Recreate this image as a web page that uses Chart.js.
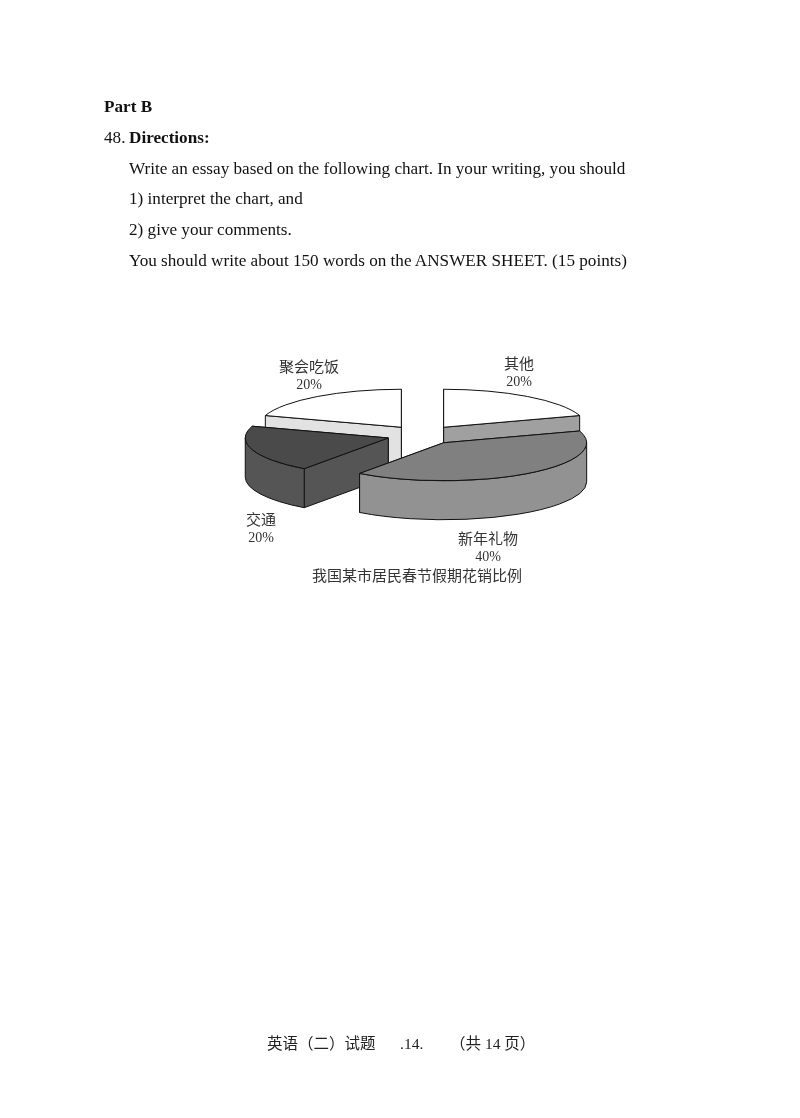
<!DOCTYPE html>
<html>
<head>
<meta charset="utf-8">
<title>Part B</title>
<script src="https://cdn.jsdelivr.net/npm/chart.js@4"></script>
<style>
    html, body { margin: 0; background: #fff; }
    body { position: relative; width: 800px; height: 1118px; overflow: hidden; font-family: "Liberation Serif", "Noto Sans CJK SC", serif; color: #111; }
    .line { position: absolute; font-size: 17.15px; line-height: 20px; white-space: pre; filter: blur(0.3px); }
    .foot { position: absolute; top: 1034px; font-size: 15.5px; line-height: 20px; white-space: pre; color: #222; filter: blur(0.3px); }
    #chartBox { position: absolute; left: 220px; top: 340px; filter: blur(0.45px); }
</style>
</head>
<body>
<div class="line" style="left:104px;top:97px"><b>Part B</b></div>
<div class="line" style="left:104px;top:128px">48.</div>
<div class="line" style="left:129px;top:128px"><b>Directions:</b></div>
<div class="line" style="left:129px;top:159px">Write an essay based on the following chart. In your writing, you should</div>
<div class="line" style="left:129px;top:189px">1) interpret the chart, and</div>
<div class="line" style="left:129px;top:220px">2) give your comments.</div>
<div class="line" style="left:129px;top:251px">You should write about 150 words on the ANSWER SHEET. (15 points)</div>

<div id="chartBox"><canvas id="springChart" width="394" height="246"></canvas></div>

<div class="foot" style="left:267px">英语（二）试题</div>
<div class="foot" style="left:400px">.14.</div>
<div class="foot" style="left:450px">（共 14 页）</div>

<script>
const categories = ['其他', '新年礼物', '交通', '聚会吃饭'];
const percents = [20, 40, 20, 20];
const chartTitle = '我国某市居民春节假期花销比例';

const topColors = ['#ffffff', '#808080', '#4a4a4a', '#ffffff'];
const sideColors = ['#a0a0a0', '#929292', '#555555', '#e2e2e2'];

const SQUASH = 38 / 143;   // tilt of the pie
const DEPTH = 39;          // height of the slices
const EXPLODE = 36;        // how far each slice is pulled out
const PIE_SHIFT = 5.5;     // pie sits a little right of the caption
const LINE = '#111111';

// label centres inside the canvas, same order as categories
const labelSpots = [[299, 25], [268, 200], [41, 181], [89, 28]];

function sliceCenter(arc) {
    const mid = (arc.startAngle + arc.endAngle) / 2;
    return {
        x: arc.x + PIE_SHIFT + Math.cos(mid) * EXPLODE,
        y: arc.y + Math.sin(mid) * EXPLODE * SQUASH
    };
}

function edgeWall(ctx, c, r, angle, color) {
    const ex = c.x + Math.cos(angle) * r;
    const ey = c.y + Math.sin(angle) * r * SQUASH;
    ctx.beginPath();
    ctx.moveTo(c.x, c.y);
    ctx.lineTo(ex, ey);
    ctx.lineTo(ex, ey + DEPTH);
    ctx.lineTo(c.x, c.y + DEPTH);
    ctx.closePath();
    ctx.fillStyle = color;
    ctx.fill();
    ctx.stroke();
}

const pie3dPlugin = {
    id: 'pie3d',
    beforeDatasetsDraw(chart) {
        const ctx = chart.ctx;
        const arcs = chart.getDatasetMeta(0).data.map((arc, index) => ({ arc, index }));

        // paint the slices from back to front
        arcs.sort((a, b) => Math.sin((a.arc.startAngle + a.arc.endAngle) / 2) - Math.sin((b.arc.startAngle + b.arc.endAngle) / 2));

        ctx.save();
        ctx.strokeStyle = LINE;
        ctx.lineWidth = 1;
        ctx.lineJoin = 'round';

        arcs.forEach(({ arc, index }) => {
            const c = sliceCenter(arc);
            const r = arc.outerRadius;
            const start = arc.startAngle;
            const end = arc.endAngle;

            // back edge first so the nearer wall covers it
            [start, end]
                .sort((a, b) => Math.sin(a) - Math.sin(b))
                .forEach(angle => edgeWall(ctx, c, r, angle, sideColors[index]));

            // curved outer wall, only the part facing the viewer
            const from = Math.max(start, 0);
            const to = Math.min(end, Math.PI);
            if (from < to) {
                ctx.beginPath();
                ctx.ellipse(c.x, c.y, r, r * SQUASH, 0, from, to);
                ctx.ellipse(c.x, c.y + DEPTH, r, r * SQUASH, 0, to, from, true);
                ctx.closePath();
                ctx.fillStyle = sideColors[index];
                ctx.fill();
                ctx.stroke();
            }

            // top face is the library's own arc, flattened
            ctx.save();
            ctx.translate(c.x, c.y);
            ctx.scale(1, SQUASH);
            ctx.translate(-arc.x, -arc.y);
            arc.draw(ctx);
            ctx.restore();

            ctx.beginPath();
            ctx.moveTo(c.x, c.y);
            ctx.ellipse(c.x, c.y, r, r * SQUASH, 0, start, end);
            ctx.closePath();
            ctx.stroke();
        });

        ctx.fillStyle = '#333';
        ctx.textAlign = 'center';
        ctx.textBaseline = 'middle';
        categories.forEach((name, i) => {
            ctx.font = '15px "Liberation Serif", "Noto Sans CJK SC"';
            ctx.fillText(name, labelSpots[i][0], labelSpots[i][1]);
            ctx.font = '14px "Liberation Serif", "Noto Sans CJK SC"';
            ctx.fillText(percents[i] + '%', labelSpots[i][0], labelSpots[i][1] + 17.5);
        });
        ctx.restore();

        return false; // slices are done, skip the default draw
    }
};

new Chart(document.getElementById('springChart').getContext('2d'), {
    type: 'pie',
    data: {
        labels: categories,
        datasets: [{
            data: percents,
            backgroundColor: topColors,
            borderWidth: 0,
            radius: 143
        }]
    },
    options: {
        responsive: false,
        animation: false,
        events: [],
        plugins: {
            legend: { display: false },
            tooltip: { enabled: false },
            title: {
                display: true,
                text: chartTitle,
                position: 'bottom',
                color: '#333',
                font: { family: '"Liberation Serif", "Noto Sans CJK SC"', size: 15, weight: 'normal' },
                padding: { top: 38, bottom: 0 }
            }
        }
    },
    plugins: [pie3dPlugin]
});
</script>
</body>
</html>
